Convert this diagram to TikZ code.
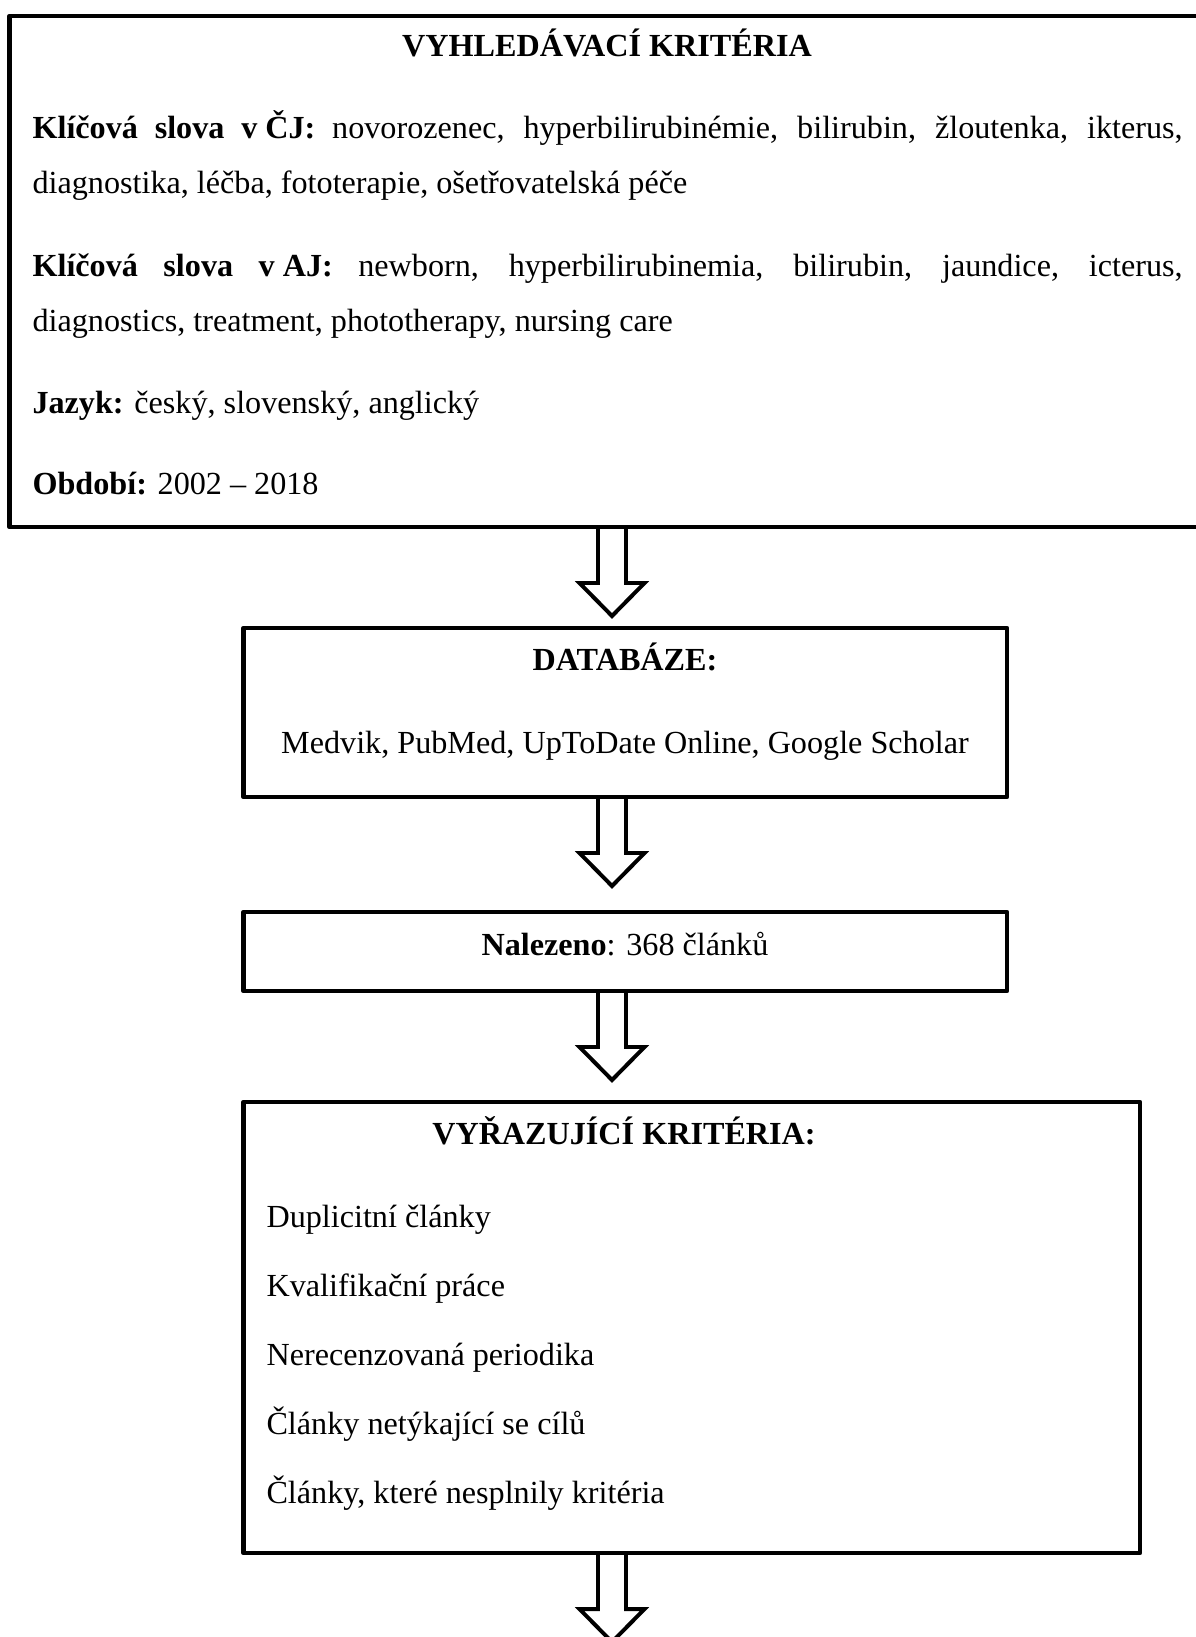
\documentclass[tikz,border=0pt]{standalone}
\usepackage{fontspec}
\setmainfont{Liberation Serif}
\usetikzlibrary{calc,fit}

\tikzset{
  box/.style={draw, line width=1.67pt, line join=round, inner sep=0pt, outer sep=0pt},
  txt/.style={inner sep=0pt, font=\fontsize{12}{14}\selectfont},
  hollow/.style={draw, line width=1.48pt},
}

\begin{document}
\begin{tikzpicture}[x=0.373pt,y=-0.373pt]
  \useasboundingbox (0,0) rectangle (1196,1637);
  % boxes
  \node[box, fit={(9.5,16) (1215,527)}] (crit) {};
  \node[box, fit={(243.5,628) (1007,797)}] (db) {};
  \node[box, fit={(243.5,912) (1007,991)}] (found) {};
  \node[box, fit={(243.5,1102) (1140,1553)}] (excl) {};
  \coordinate (col) at (612,0);

  % search criteria
  \node[txt, anchor=base] (critT) at (607,57) {\textbf{VYHLEDÁVACÍ KRITÉRIA}};
  \node[txt, anchor=base west] (cz1) at (32,139)
    {\makebox[429pt][s]{\textbf{Klíčová slova v\hspace{0.25em}ČJ:} novorozenec, hyperbilirubinémie, bilirubin, žloutenka, ikterus,}};
  \node[txt, anchor=base west] (cz2) at (32,194) {diagnostika, léčba, fototerapie, ošetřovatelská péče};
  \node[txt, anchor=base west] (en1) at (32,277)
    {\makebox[429pt][s]{\textbf{Klíčová slova v\hspace{0.25em}AJ:} newborn, hyperbilirubinemia, bilirubin, jaundice, icterus,}};
  \node[txt, anchor=base west] (en2) at (32,332) {diagnostics, treatment, phototherapy, nursing care};
  \node[txt, anchor=base west] (lang) at (32,414) {\textbf{Jazyk:} český, slovenský, anglický};
  \node[txt, anchor=base west] (period) at (32,494) {\textbf{Období:} 2002 – 2018};

  % databases
  \node[txt, anchor=base] (dbT) at (625,670) {\textbf{DATABÁZE:}};
  \node[txt, anchor=base] (dbL) at (625,753) {Medvik, PubMed, UpToDate Online, Google Scholar};

  % found
  \node[txt, anchor=base] (foundT) at (625,955) {\textbf{Nalezeno}: 368 článků};

  % exclusion criteria
  \node[txt, anchor=base] (exclT) at (624,1144) {\textbf{VYŘAZUJÍCÍ KRITÉRIA:}};
  \foreach \t/\y [count=\i] in {Duplicitní články/1227, Kvalifikační práce/1296,
      Nerecenzovaná periodika/1365, Články netýkající se cílů/1434,
      {Články, které nesplnily kritéria}/1503}
    \node[txt, anchor=base west] (ex\i) at (266,\y) {\t};

  % block arrows
  \foreach \src in {crit,db,found,excl}
    \draw[hollow] ($(\src.south -| col)+(-14,0)$) -- ++(0,56) -- ++(-18.5,0)
      -- ++(32.5,33) -- ++(32.5,-33) -- ++(-18.5,0) -- ++(0,-56);
\end{tikzpicture}
\end{document}
